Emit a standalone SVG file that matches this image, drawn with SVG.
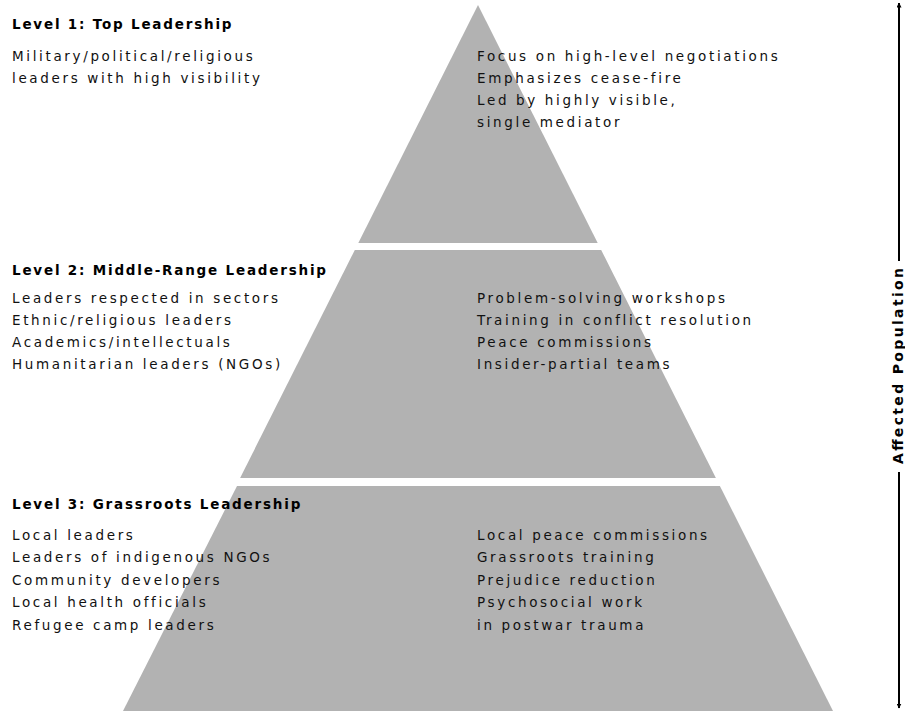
<svg xmlns="http://www.w3.org/2000/svg" width="905" height="711" viewBox="0 0 905 711">
<defs>
<style>
.tier{fill:#b2b2b2;}
.t{font-family:"DejaVu Sans",Verdana,sans-serif;font-size:13.5px;letter-spacing:2.65px;fill:#111;}
.h{font-family:"DejaVu Sans",Verdana,sans-serif;font-size:13.5px;font-weight:bold;letter-spacing:1.8px;fill:#000;}
.axis{stroke:#000;stroke-width:2;fill:none;}
</style>
<marker id="ah" viewBox="0 0 10 10" refX="9" refY="5" markerWidth="5" markerHeight="5" orient="auto-start-reverse" markerUnits="userSpaceOnUse">
<path d="M0,0 L10,5 L0,10 z" fill="#000"/>
</marker>
</defs>
<rect width="905" height="711" fill="#fff"/>

<g id="level1">
<polygon class="tier" points="478,5 597.7,243 358.3,243"/>
<text class="h" x="12" y="29">Level 1: Top Leadership</text>
<text class="t" x="12" y="61">Military/political/religious</text>
<text class="t" x="12" y="83">leaders with high visibility</text>
<text class="t" x="477" y="61">Focus on high-level negotiations</text>
<text class="t" x="477" y="83">Emphasizes cease-fire</text>
<text class="t" x="477" y="105">Led by highly visible,</text>
<text class="t" x="477" y="127">single mediator</text>
</g>

<g id="level2">
<polygon class="tier" points="354.8,250 601.2,250 715.9,478 240.1,478"/>
<text class="h" x="12" y="275">Level 2: Middle-Range Leadership</text>
<text class="t" x="12" y="303">Leaders respected in sectors</text>
<text class="t" x="12" y="325">Ethnic/religious leaders</text>
<text class="t" x="12" y="347">Academics/intellectuals</text>
<text class="t" x="12" y="369">Humanitarian leaders (NGOs)</text>
<text class="t" x="477" y="303">Problem-solving workshops</text>
<text class="t" x="477" y="325">Training in conflict resolution</text>
<text class="t" x="477" y="347">Peace commissions</text>
<text class="t" x="477" y="369">Insider-partial teams</text>
</g>

<g id="level3">
<polygon class="tier" points="237,486 719.9,486 833,711 123,711"/>
<text class="h" x="12" y="509">Level 3: Grassroots Leadership</text>
<text class="t" x="12" y="540">Local leaders</text>
<text class="t" x="12" y="562">Leaders of indigenous NGOs</text>
<text class="t" x="12" y="585">Community developers</text>
<text class="t" x="12" y="607">Local health officials</text>
<text class="t" x="12" y="630">Refugee camp leaders</text>
<text class="t" x="477" y="540">Local peace commissions</text>
<text class="t" x="477" y="562">Grassroots training</text>
<text class="t" x="477" y="585">Prejudice reduction</text>
<text class="t" x="477" y="607">Psychosocial work</text>
<text class="t" x="477" y="630">in postwar trauma</text>
</g>

<g id="connectors">
<line class="axis" x1="899" y1="261" x2="899" y2="3" marker-end="url(#ah)"/>
<line class="axis" x1="899" y1="472" x2="899" y2="708" marker-end="url(#ah)"/>
</g>

<g id="axis-label">
<text class="h" transform="translate(903,366) rotate(-90)" text-anchor="middle" textLength="196" lengthAdjust="spacing" style="letter-spacing:0;font-size:14px">Affected Population</text>
</g>
</svg>
